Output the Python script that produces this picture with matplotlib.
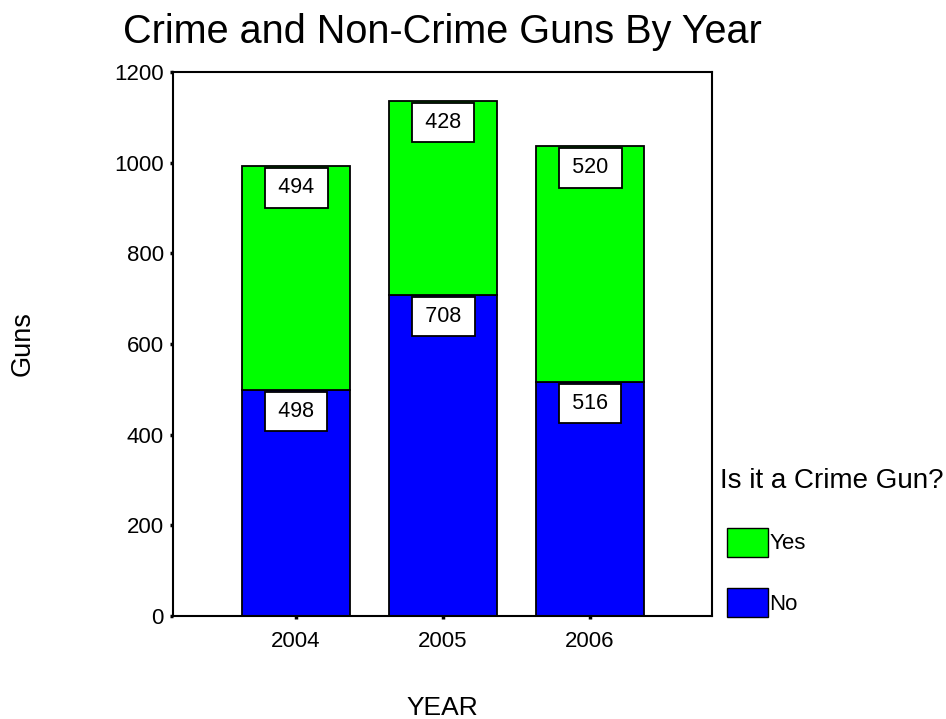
import matplotlib
matplotlib.use("Agg")
import matplotlib.pyplot as plt
from matplotlib.patches import Patch
import numpy as np

plt.rcParams["font.family"] = ["Liberation Sans", "DejaVu Sans"]

years = ["2004", "2005", "2006"]
not_crime = [498, 708, 516]
crime = [494, 428, 520]
yticks = [0, 200, 400, 600, 800, 1000, 1200]

GREEN = "#00ff00"
BLUE = "#0000ff"

fig = plt.figure(figsize=(9.46, 7.19), dpi=100)
ax = fig.add_axes([0.1829, 0.1433, 0.5698, 0.7566])

x = np.arange(len(years))
width = 0.735
ax.bar(x, not_crime, width, color=BLUE, edgecolor="black", linewidth=1.3)
ax.bar(x, crime, width, bottom=not_crime, color=GREEN,
       edgecolor="black", linewidth=1.3)

# value boxes just inside the top of each segment
tops_no = np.array(not_crime)
tops_yes = np.array(not_crime) + np.array(crime)
for xi, top, v in list(zip(x, tops_no, not_crime)) + list(zip(x, tops_yes, crime)):
    ax.annotate(f"\u2009{v}\u2009", (xi, top), xytext=(0, -15.5),
                textcoords="offset points", ha="center", va="center", fontsize=15.5,
                bbox=dict(boxstyle="square,pad=0.43", fc="white", ec="black", lw=1.3))

ax.set_xlim(-0.837, 2.83)
ax.set_ylim(0, 1200)
ax.set_xticks(x)
ax.set_xticklabels(years)
ax.set_yticks(yticks)
ax.tick_params(axis="both", direction="out", length=2.5, width=2.5, labelsize=16)
ax.tick_params(axis="y", pad=4)
ax.tick_params(axis="x", pad=8)
for s in ax.spines.values():
    s.set_linewidth(1.5)

ax.set_xlabel("YEAR", fontsize=19)
ax.set_ylabel("Guns", fontsize=19.5)
ax.xaxis.set_label_coords(0.5, -0.148)
ax.yaxis.set_label_coords(-0.255, 0.5)
ax.set_title("Crime and Non-Crime Guns By Year", fontsize=28.5, pad=21)

handles = [Patch(facecolor=GREEN, edgecolor="black", linewidth=1),
           Patch(facecolor=BLUE, edgecolor="black", linewidth=1)]
leg = fig.legend(handles, ["Yes", "No"], title="Is it a Crime Gun?",
                 loc="upper left", bbox_to_anchor=(727 / 946, 1 - 469.8 / 719),
                 frameon=False, fontsize=16, title_fontsize=20,
                 handlelength=1.85, handleheight=1.632, handletextpad=0.05,
                 labelspacing=1.43, borderpad=0, borderaxespad=0)
leg._legend_box.align = "left"
# title sits slightly left of the swatches
leg.get_title().set_position((-7, 1.4))

fig.savefig("out.png", dpi=100)
